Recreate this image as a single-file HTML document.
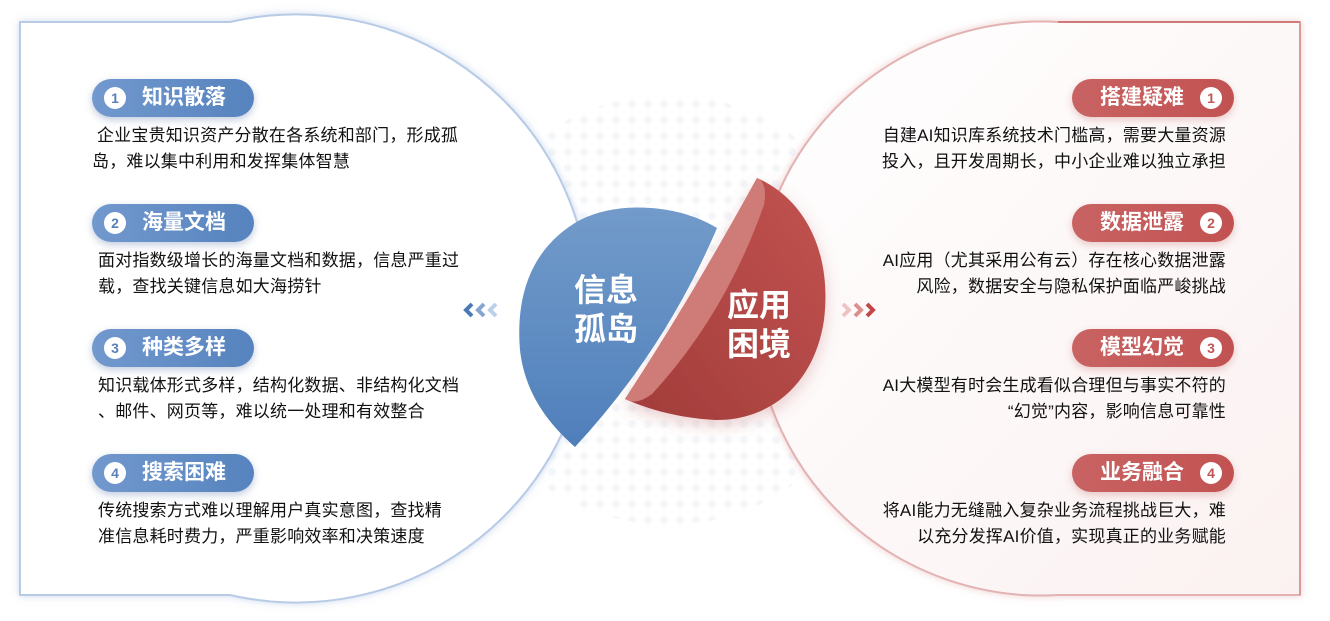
<!DOCTYPE html>
<html><head><meta charset="utf-8"><style>
*{margin:0;padding:0;box-sizing:border-box}
body{width:1330px;height:621px;background:#fff;position:relative;overflow:hidden;font-family:"Liberation Sans","Noto Sans CJK SC",sans-serif}
.b{position:absolute;height:38px;width:162px;border-radius:19px;color:#fff;font-weight:bold;font-size:21px;line-height:38px;box-shadow:0 3px 8px rgba(80,110,160,.35)}
.bl{background:linear-gradient(90deg,#7299ce,#5683be)}
.br{background:linear-gradient(90deg,#c96363,#c25252);box-shadow:0 3px 8px rgba(190,90,90,.3)}
.n{position:absolute;top:8px;width:22px;height:22px;border-radius:50%;background:#fff;font-size:14px;line-height:22px;text-align:center;font-weight:bold}
.bl .n{left:12px;color:#5a80b8}.br .n{right:12px;color:#c25656}
.bl span.t{position:absolute;left:50px}.br span.t{position:absolute;right:50px}
.p{position:absolute;font-size:17px;line-height:26px;color:#111;width:400px;white-space:nowrap;letter-spacing:.2px}
.pr{text-align:right;width:400px}
</style></head><body>
<svg width="1330" height="621" style="position:absolute;left:0;top:0">
<defs>
<linearGradient id="rp" x1="0" y1="0" x2="1" y2="1"><stop offset="0" stop-color="#fff"/><stop offset="1" stop-color="#fbf1f1"/></linearGradient>
<linearGradient id="bl" x1="0" y1="0" x2="0" y2="1"><stop offset="0" stop-color="#729bca"/><stop offset="1" stop-color="#4f7fbb"/></linearGradient>
<linearGradient id="rd" x1="1" y1="0" x2="0" y2="1"><stop offset="0" stop-color="#c25350"/><stop offset="1" stop-color="#a13c3a"/></linearGradient>
<filter id="sh" x="-20%" y="-20%" width="140%" height="140%"><feDropShadow dx="0" dy="0" stdDeviation="4" flood-color="#9fb6da" flood-opacity=".5"/></filter>
<filter id="sh2" x="-20%" y="-20%" width="140%" height="140%"><feDropShadow dx="0" dy="0" stdDeviation="4" flood-color="#e0a0a0" flood-opacity=".5"/></filter>
<filter id="sh3" x="-30%" y="-30%" width="160%" height="160%"><feDropShadow dx="0" dy="6" stdDeviation="8" flood-color="#c06060" flood-opacity=".3"/></filter>
<pattern id="dots" width="16" height="16" patternUnits="userSpaceOnUse"><circle cx="8" cy="8" r="4" fill="#edf1f7"/></pattern>
</defs>
<circle cx="668" cy="310" r="215" fill="url(#dots)" opacity=".6"/>
<path d="M20,22 L230,22 A294,294 0 1 1 230,595 L20,595 Z" fill="#fff" stroke="#b8cbe6" stroke-width="2" filter="url(#sh)"/>
<path d="M1300,22 L1058,22 A287,287 0 1 0 1058,595 L1300,595 Z" fill="url(#rp)" stroke="#e3b3b3" stroke-width="2" filter="url(#sh2)"/>
<path d="M1300,22 L1058,22" stroke="#cf7a7a" stroke-width="2"/>
<path d="M1300,22 L1300,595" stroke="#d89a9a" stroke-width="2"/>
<path d="M757,178 C807,200 832,255 824,320 C814,387 767,421 715,420 C680,418 650,410 625,399 Q690,300 757,178 Z" fill="url(#rd)" filter="url(#sh3)"/>
<path d="M757,178 Q690,300 625,399 Q636,406 652,394 Q725,315 764,205 Q768,183 757,178 Z" fill="#cf7b78"/>
<path d="M717,228 C680,205 620,200 580,220 C535,245 515,290 520,350 C525,395 550,425 575,447 Q665,350 717,228 Z" fill="url(#bl)"/>
<text x="606" y="301" font-size="32" font-weight="bold" fill="#fff" text-anchor="middle" font-family="Liberation Sans,Noto Sans CJK SC,sans-serif">信息</text>
<text x="606" y="340" font-size="32" font-weight="bold" fill="#fff" text-anchor="middle" font-family="Liberation Sans,Noto Sans CJK SC,sans-serif">孤岛</text>
<text x="759" y="316" font-size="32" font-weight="bold" fill="#fff" text-anchor="middle" font-family="Liberation Sans,Noto Sans CJK SC,sans-serif">应用</text>
<text x="759" y="355" font-size="32" font-weight="bold" fill="#fff" text-anchor="middle" font-family="Liberation Sans,Noto Sans CJK SC,sans-serif">困境</text>
<g fill="none" stroke-width="4">
<path d="M472,304 L466,310 L472,316" stroke="#4a79b5"/>
<path d="M484,304 L478,310 L484,316" stroke="#86a6d2"/>
<path d="M496,304 L490,310 L496,316" stroke="#bcd0ea"/>
<path d="M843,304 L849,310 L843,316" stroke="#efc3c3"/>
<path d="M855,304 L861,310 L855,316" stroke="#dc8f8f"/>
<path d="M867,304 L873,310 L867,316" stroke="#c04848"/>
</g>
</svg>

<div class="b bl" style="left:92px;top:79px"><div class="n">1</div><span class="t">知识散落</span></div>
<div class="p" style="left:92px;top:123px">&nbsp;企业宝贵知识资产分散在各系统和部门，形成孤<br>岛，难以集中利用和发挥集体智慧</div>
<div class="b bl" style="left:92px;top:204px"><div class="n">2</div><span class="t">海量文档</span></div>
<div class="p" style="left:98px;top:248px">面对指数级增长的海量文档和数据，信息严重过<br>载，查找关键信息如大海捞针</div>
<div class="b bl" style="left:92px;top:329px"><div class="n">3</div><span class="t">种类多样</span></div>
<div class="p" style="left:98px;top:373px">知识载体形式多样，结构化数据、非结构化文档<br>、邮件、网页等，难以统一处理和有效整合</div>
<div class="b bl" style="left:92px;top:454px"><div class="n">4</div><span class="t">搜索困难</span></div>
<div class="p" style="left:98px;top:498px">传统搜索方式难以理解用户真实意图，查找精<br>准信息耗时费力，严重影响效率和决策速度</div>

<div class="b br" style="left:1072px;top:79px"><div class="n">1</div><span class="t">搭建疑难</span></div>
<div class="p pr" style="left:826px;top:123px">自建AI知识库系统技术门槛高，需要大量资源<br>投入，且开发周期长，中小企业难以独立承担</div>
<div class="b br" style="left:1072px;top:204px"><div class="n">2</div><span class="t">数据泄露</span></div>
<div class="p pr" style="left:826px;top:248px">AI应用（尤其采用公有云）存在核心数据泄露<br>风险，数据安全与隐私保护面临严峻挑战</div>
<div class="b br" style="left:1072px;top:329px"><div class="n">3</div><span class="t">模型幻觉</span></div>
<div class="p pr" style="left:826px;top:373px">AI大模型有时会生成看似合理但与事实不符的<br>“幻觉”内容，影响信息可靠性</div>
<div class="b br" style="left:1072px;top:454px"><div class="n">4</div><span class="t">业务融合</span></div>
<div class="p pr" style="left:826px;top:498px">将AI能力无缝融入复杂业务流程挑战巨大，难<br>以充分发挥AI价值，实现真正的业务赋能</div>
</body></html>
